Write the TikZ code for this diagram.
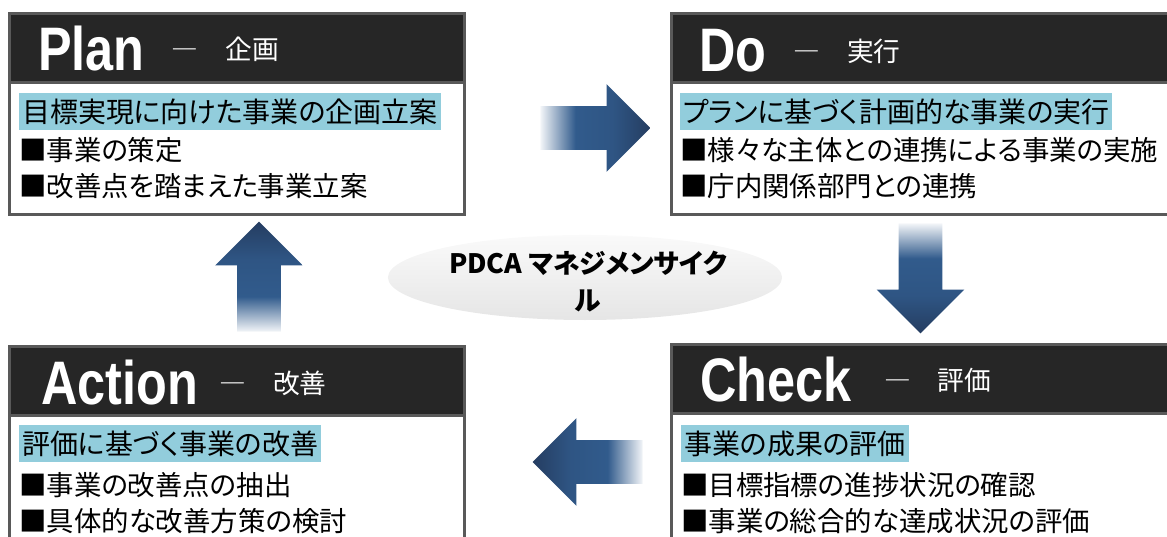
\documentclass[tikz,border=0pt]{standalone}
\usepackage{fontspec}
\setmainfont{Noto Sans CJK JP}[RawFeature=+palt]
\newfontfamily\titlefont[FakeStretch=0.82]{Liberation Sans}
\usetikzlibrary{positioning,shapes.arrows,shapes.geometric}
\definecolor{leadblue}{RGB}{146,205,220}
\definecolor{arrowmid}{RGB}{49,91,140}
\definecolor{arrowdark}{RGB}{37,61,97}
\definecolor{barblack}{RGB}{38,38,38}
\pgfdeclarehorizontalshading{arrowfade}{100bp}{color(0bp)=(white); color(25bp)=(arrowmid!6); color(41bp)=(arrowmid); color(58bp)=(arrowmid!80!arrowdark); color(75bp)=(arrowdark); color(100bp)=(arrowdark)}

\begin{document}
\begin{tikzpicture}[x=0.025cm,y=0.025cm]
\tikzstyle{card}=[draw=black!65,line width=1.8pt,fill=white,anchor=north west,inner sep=0]
\tikzstyle{bar}=[card,fill=barblack,minimum height=1.725cm]
\tikzstyle{title}=[font=\titlefont\bfseries\fontsize{43.7}{44}\selectfont,text=white,inner sep=0,anchor=base west]
\tikzstyle{subtitle}=[font=\fontsize{19}{20}\selectfont,text=white,inner sep=0]
\tikzstyle{lead}=[fill=leadblue,font=\fontsize{19.9}{20}\selectfont,inner xsep=2pt,inner ysep=3.2pt,text height=17.5pt,text depth=2.4pt,anchor=west]
\tikzstyle{item}=[font=\fontsize{19.5}{20}\selectfont,inner sep=0,anchor=west]
\tikzstyle{flow}=[single arrow,shade,shading=arrowfade,inner xsep=0,inner ysep=0.5375cm,text height=0pt,text depth=0pt,minimum height=2.75cm,single arrow head extend=0.55cm,anchor=tail]
\tikzstyle{oval}=[ellipse,minimum width=9.85cm,minimum height=2.125cm,inner sep=0,top color=gray!4,bottom color=gray!20]
\useasboundingbox (0,0) rectangle (1167,537);
\clip (0,0) rectangle (1167,537);

% Plan
\node[card,minimum width=11.375cm,minimum height=5.025cm] (plan) at (8,525) {};
\node[bar,minimum width=11.375cm] (planbar) at (8,525) {};
\node[title] (plantitle) at (38,466) {Plan};
\node[subtitle,right=19pt of plantitle] (plansub) {―　企画};
\node[lead] (planlead) at (19,425.5) {目標実現に向けた事業の企画立案};
\node[item] (plana) at (19,387) {■事業の策定};
\node[item] (planb) at (19,351) {■改善点を踏まえた事業立案};

% Do
\node[card,minimum width=12.75cm,minimum height=5.025cm] (do) at (670,525) {};
\node[bar,minimum width=12.75cm] (dobar) at (670,525) {};
\node[title] (dotitle) at (699,465) {Do};
\node[subtitle,right=19pt of dotitle] (dosub) {―　実行};
\node[lead] (dolead) at (680,425.5) {プランに基づく計画的な事業の実行};
\node[item] (doa) at (680,387) {■様々な主体との連携による事業の実施};
\node[item] (dob) at (680,351) {■庁内関係部門との連携};

% Check
\node[card,minimum width=12.75cm,minimum height=6cm] (check) at (670,194) {};
\node[bar,minimum width=12.75cm] (checkbar) at (670,194) {};
\node[title] (checktitle) at (700,135) {Check};
\node[subtitle,right=23pt of checktitle] (checksub) {―　評価};
\node[lead] (checklead) at (681,93) {事業の成果の評価};
\node[item] (checka) at (681,52) {■目標指標の進捗状況の確認};
\node[item] (checkb) at (681,16) {■事業の総合的な達成状況の評価};

% Action
\node[card,minimum width=11.375cm,minimum height=6cm] (act) at (8,192) {};
\node[bar,minimum width=11.375cm] (actbar) at (8,192) {};
\node[title] (acttitle) at (41,132) {Action};
\node[subtitle,right=15pt of acttitle] (actsub) {―　改善};
\node[lead] (actlead) at (19,93) {評価に基づく事業の改善};
\node[item] (acta) at (19,52) {■事業の改善点の抽出};
\node[item] (actb) at (19,16) {■具体的な改善方策の検討};

% cycle
\node[oval] (pdca) at (585,259.5) {};
\node[align=center,font=\bfseries\fontsize{19}{26.3}\selectfont] (pdcatext) at (588,255.5) {PDCA マネジメンサイク\\ル};
\node[flow,shading angle=0] (plan2do) at (540,409) {};
\node[flow,rotate=-90,shading angle=-90] (do2check) at (920.5,314) {};
\node[flow,rotate=180,shading angle=180] (check2act) at (643,75) {};
\node[flow,rotate=90,shading angle=90] (act2plan) at (259,205) {};
\end{tikzpicture}
\end{document}
